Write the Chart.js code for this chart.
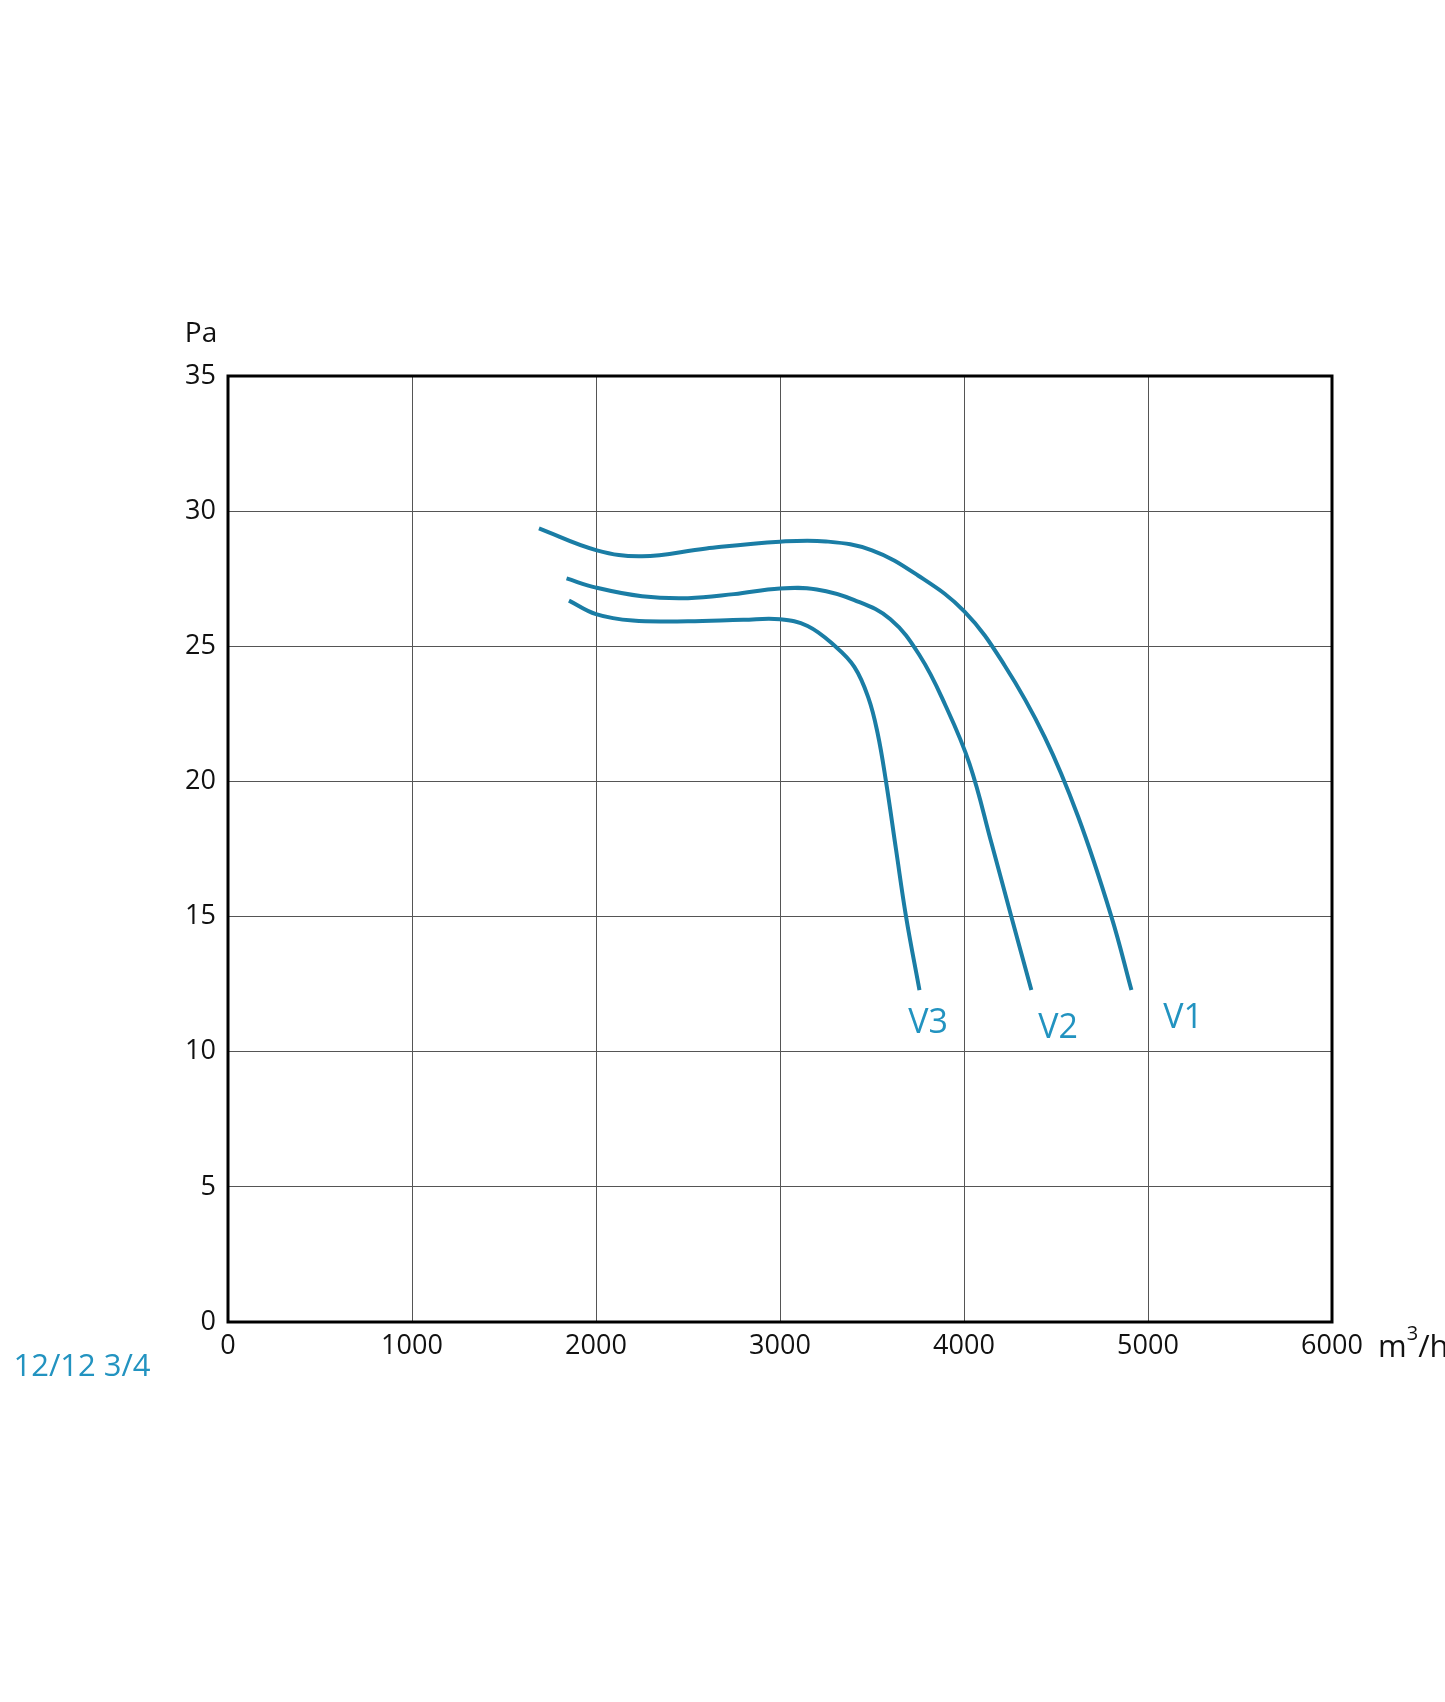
<!DOCTYPE html>
<html>
<head>
<meta charset="utf-8">
<script src="https://cdn.jsdelivr.net/npm/chart.js@4.4.1/dist/chart.umd.min.js"></script>
<style>
  html, body { margin: 0; padding: 0; background: #fff; }
  #wrap { width: 1445px; height: 1702px; position: relative; }
</style>
</head>
<body>
<div id="wrap"><canvas id="fanChart" width="1445" height="1702"></canvas></div>
<script>
// airflow (m3/h) and pressure (Pa)
const v1Flow = [1690, 2000, 2250, 2600, 3000, 3250, 3500, 3750, 4003, 4220, 4438, 4620, 4801, 4910];
const v1Pa   = [29.36, 28.56, 28.33, 28.62, 28.87, 28.88, 28.55, 27.62, 26.28, 24.3, 21.65, 18.7, 15.0, 12.28];

const v2Flow = [1840, 2000, 2250, 2500, 2750, 3000, 3200, 3404, 3600, 3760, 3900, 4030, 4150, 4257, 4366];
const v2Pa   = [27.51, 27.17, 26.85, 26.78, 26.93, 27.14, 27.1, 26.71, 26.0, 24.65, 22.8, 20.65, 17.7, 15.0, 12.28];

const v3Flow = [1853, 2000, 2200, 2500, 2800, 3000, 3150, 3300, 3404, 3480, 3530, 3576, 3631, 3685, 3758];
const v3Pa   = [26.69, 26.19, 25.95, 25.93, 25.98, 26.0, 25.75, 25.0, 24.24, 23.1, 21.8, 20.0, 17.46, 15.0, 12.28];

const seriesNames = ['V1', 'V2', 'V3'];
const xTicks = [0, 1000, 2000, 3000, 4000, 5000, 6000];
const yTicks = [0, 5, 10, 15, 20, 25, 30, 35];

const lineColor = '#1a7da5';
const labelColor = '#2293c0';
const fontFamily = '"Open Sans", "Noto Sans", sans-serif';

function toPoints(xs, ys) {
  return xs.map((x, i) => ({ x: x, y: ys[i] }));
}

// frame, axis titles and curve labels
const extrasPlugin = {
  id: 'extras',
  afterDraw(chart) {
    const ctx = chart.ctx;
    const a = chart.chartArea;
    ctx.save();
    ctx.strokeStyle = '#000';
    ctx.lineWidth = 3;
    ctx.strokeRect(a.left, a.top, a.right - a.left, a.bottom - a.top);

    ctx.fillStyle = '#111';
    ctx.font = '28px ' + fontFamily;
    ctx.textAlign = 'center';
    ctx.textBaseline = 'middle';
    ctx.fillText('Pa', a.left - 27, a.top - 42);

    // m3/h
    ctx.textAlign = 'left';
    let mx = a.right + 46;
    let my = a.bottom + 26;
    ctx.font = '31px ' + fontFamily;
    ctx.fillText('m', mx, my);
    mx += ctx.measureText('m').width;
    ctx.font = '20px ' + fontFamily;
    ctx.fillText('3', mx, my - 14);
    mx += ctx.measureText('3').width;
    ctx.font = '31px ' + fontFamily;
    ctx.fillText('/h', mx, my);

    // curve names near the ends of the lines
    ctx.fillStyle = labelColor;
    ctx.font = '34px ' + fontFamily;
    ctx.textAlign = 'center';
    const spots = [[1183, 1018], [1058, 1028], [928, 1023]];
    seriesNames.forEach((name, i) => {
      ctx.fillText(name, spots[i][0], spots[i][1]);
    });

    ctx.font = '31px ' + fontFamily;
    ctx.fillText('12/12 3/4', 82, 1367);
    ctx.restore();
  }
};

const makeSet = (name, xs, ys) => ({
  label: name,
  data: toPoints(xs, ys),
  borderColor: lineColor,
  borderWidth: 4,
  pointRadius: 0,
  showLine: true,
  fill: false,
  tension: 0.4,
  borderCapStyle: 'butt'
});

new Chart(document.getElementById('fanChart'), {
  type: 'scatter',
  data: {
    datasets: [
      makeSet(seriesNames[0], v1Flow, v1Pa),
      makeSet(seriesNames[1], v2Flow, v2Pa),
      makeSet(seriesNames[2], v3Flow, v3Pa)
    ]
  },
  options: {
    responsive: false,
    animation: false,
    devicePixelRatio: 1,
    layout: { padding: { top: 376, right: 113, left: 0, bottom: 0 } },
    plugins: { legend: { display: false }, tooltip: { enabled: false } },
    scales: {
      x: {
        type: 'linear',
        min: 0, max: 6000,
        afterBuildTicks: s => { s.ticks = xTicks.map(v => ({ value: v })); },
        afterFit: s => { s.height = 1702 - 1322; },
        grid: { color: '#555', lineWidth: 1, drawTicks: false },
        border: { display: false },
        ticks: { color: '#111', font: { size: 27, family: fontFamily }, padding: 8, maxRotation: 0,
                 callback: v => String(v) }
      },
      y: {
        type: 'linear',
        min: 0, max: 35,
        afterBuildTicks: s => { s.ticks = yTicks.map(v => ({ value: v })); },
        afterFit: s => { s.width = 228; },
        grid: { color: '#555', lineWidth: 1, drawTicks: false },
        border: { display: false },
        ticks: { color: '#111', font: { size: 27, family: fontFamily }, padding: 12,
                 callback: v => String(v) }
      }
    }
  },
  plugins: [extrasPlugin]
});
</script>
</body>
</html>
